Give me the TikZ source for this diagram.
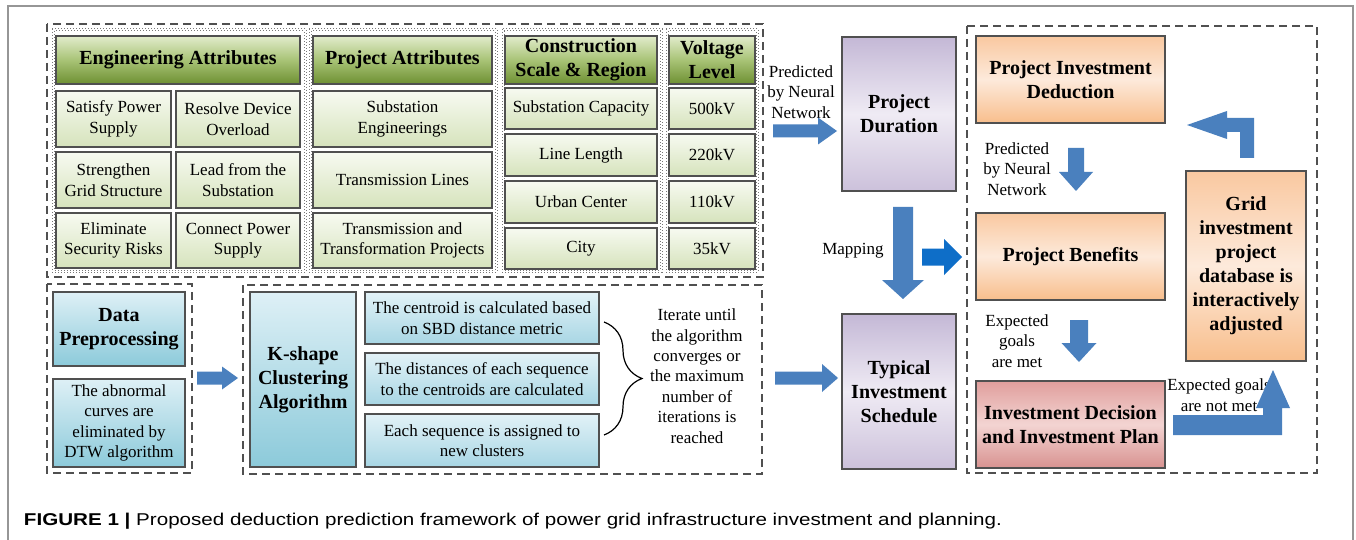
\documentclass[tikz,border=0pt]{standalone}
\usepackage{fontspec}
\setmainfont{Liberation Serif}
\newfontfamily\capfont{Liberation Sans}
\usetikzlibrary{decorations.pathreplacing}

\definecolor{headTop}{RGB}{226,236,204}
\definecolor{headMid}{RGB}{168,195,118}
\definecolor{headBot}{RGB}{110,144,50}
\definecolor{cellTop}{RGB}{247,250,241}
\definecolor{cellBot}{RGB}{214,227,188}
\definecolor{blueTop}{RGB}{222,240,246}
\definecolor{blueBot}{RGB}{140,202,218}
\definecolor{stepTop}{RGB}{226,242,247}
\definecolor{stepBot}{RGB}{168,214,228}
\definecolor{purTop}{RGB}{196,184,214}
\definecolor{purMid}{RGB}{239,235,244}
\definecolor{purBot}{RGB}{204,193,219}
\definecolor{orTop}{RGB}{249,200,160}
\definecolor{orMid}{RGB}{253,234,219}
\definecolor{orBot}{RGB}{248,190,140}
\definecolor{redTop}{RGB}{224,158,156}
\definecolor{redMid}{RGB}{243,212,210}
\definecolor{redBot}{RGB}{216,146,144}
\definecolor{arrowBlue}{RGB}{74,128,190}
\definecolor{arrowBright}{RGB}{14,110,200}
\definecolor{edge}{RGB}{80,80,80}
\definecolor{frameGray}{RGB}{150,150,150}

% box whose top-left and bottom-right corners are given in pixels
\newcommand{\boxnode}[7]{%
  \node[#1, anchor=north west,
        minimum width={(#5-#3)*0.5pt}, minimum height={(#6-#4)*0.5pt}]
        (#2) at (#3,#4) {#7};}
% block arrows: colour, tail, head base, tip, centre line, shaft half, head half
\newcommand{\rightblock}[7]{%
  \fill[#1] (#2,{#5-#6}) -- (#3,{#5-#6}) -- (#3,{#5-#7}) -- (#4,#5)
    -- (#3,{#5+#7}) -- (#3,{#5+#6}) -- (#2,{#5+#6}) -- cycle;}
\newcommand{\downblock}[7]{%
  \fill[#1] ({#5-#6},#2) -- ({#5-#6},#3) -- ({#5-#7},#3) -- (#5,#4)
    -- ({#5+#7},#3) -- ({#5+#6},#3) -- ({#5+#6},#2) -- cycle;}
% double dotted group frame
\newcommand{\groupframe}[4]{%
  \draw[frameGray!80!black, densely dotted, line width=0.5pt] (#1,#2) rectangle (#3,#4);
  \draw[frameGray!80!black, densely dotted, line width=0.5pt] ({#1+2},{#2+2}) rectangle ({#3-2},{#4-2});}

\begin{document}
\begin{tikzpicture}[x=0.5pt, y=-0.5pt,
  every node/.style={inner sep=1pt, outer sep=0pt, align=center},
  txt/.style={font=\fontsize{8.5pt}{10.2pt}\selectfont},
  btxt/.style={font=\fontsize{10pt}{12pt}\selectfont\bfseries},
  boxline/.style={draw=edge, line width=0.55pt},
  header/.style={boxline, btxt, top color=headTop, bottom color=headBot, middle color=headMid},
  cell/.style={boxline, txt, top color=cellTop, bottom color=cellBot},
  bluebox/.style={boxline, top color=blueTop, bottom color=blueBot},
  stepbox/.style={boxline, txt, top color=stepTop, bottom color=stepBot},
  purbox/.style={boxline, btxt, top color=purTop, bottom color=purBot, middle color=purMid},
  orbox/.style={boxline, btxt, top color=orTop, bottom color=orBot, middle color=orMid},
  redbox/.style={boxline, btxt, top color=redTop, bottom color=redBot, middle color=redMid},
  dashbox/.style={draw=edge, line width=0.6pt, dash pattern=on 4pt off 2.5pt},
  label/.style={txt, inner sep=0pt},
]
\fill[white] (0,0) rectangle (1356,540);
\useasboundingbox (0,0) rectangle (1356,540);
\draw[frameGray, line width=0.6pt] (8,560) -- (8,6) -- (1353,6) -- (1353,560);

% ---------- attribute tables ----------
\draw[dashbox] (47,24) rectangle (763,277);
\groupframe{52}{29}{306}{272}
\groupframe{309}{29}{497}{272}
\groupframe{502}{29}{662}{272}
\groupframe{666}{29}{758}{272}

\boxnode{header}{engH}{56}{36}{300}{84}{Engineering Attributes}
\boxnode{cell}{e11}{56}{91}{171}{147}{Satisfy Power\\Supply}
\boxnode{cell}{e12}{176}{91}{300}{147}{Resolve Device\\Overload}
\boxnode{cell}{e21}{56}{152}{171}{208}{Strengthen\\Grid Structure}
\boxnode{cell}{e22}{176}{152}{300}{208}{Lead from the\\Substation}
\boxnode{cell}{e31}{56}{213}{171}{268}{Eliminate\\Security Risks}
\boxnode{cell}{e32}{176}{213}{300}{268}{Connect Power\\Supply}

\boxnode{header}{prjH}{313}{36}{492}{84}{Project Attributes}
\boxnode{cell}{p1}{313}{91}{492}{147}{Substation\\Engineerings}
\boxnode{cell}{p2}{313}{152}{492}{208}{Transmission Lines}
\boxnode{cell}{p3}{313}{213}{492}{268}{Transmission and\\Transformation Projects}

\boxnode{header}{conH}{505}{36}{657}{84}{Construction\\Scale \& Region}
\boxnode{cell}{c1}{505}{88}{657}{129}{Substation Capacity}
\boxnode{cell}{c2}{505}{134}{657}{176}{Line Length}
\boxnode{cell}{c3}{505}{181}{657}{223}{Urban Center}
\boxnode{cell}{c4}{505}{228}{657}{269}{City}

\boxnode{header}{volH}{669}{36}{755}{84}{Voltage\\Level}
\boxnode{cell}{v1}{669}{88}{755}{129}{500kV}
\boxnode{cell}{v2}{669}{134}{755}{176}{220kV}
\boxnode{cell}{v3}{669}{181}{755}{223}{110kV}
\boxnode{cell}{v4}{669}{228}{755}{269}{35kV}

% ---------- clustering ----------
\draw[dashbox] (47,284) rectangle (192,473);
\boxnode{bluebox, btxt}{pre}{53}{292}{185}{366}{Data\\Preprocessing}
\boxnode{bluebox, txt}{dtw}{53}{379}{185}{467}{The abnormal\\curves are\\eliminated by\\DTW algorithm}

\draw[dashbox] (243,285) rectangle (762,474);
\boxnode{bluebox, btxt}{ks}{250}{292}{356}{467}{K-shape\\Clustering\\Algorithm}
\boxnode{stepbox}{s1}{365}{292}{599}{344}{The centroid is calculated based\\on SBD distance metric}
\boxnode{stepbox}{s2}{365}{353}{599}{405}{The distances of each sequence\\to the centroids are calculated}
\boxnode{stepbox}{s3}{365}{414}{599}{467}{Each sequence is assigned to\\new clusters}
\draw[line width=0.6pt, decorate, decoration={brace, amplitude=19pt}] (604,322) -- (604,435);
\node[label] (iter) at (697,376) {Iterate until\\the algorithm\\converges or\\the maximum\\number of\\iterations is\\reached};

\rightblock{arrowBlue}{197}{222}{238}{378}{6.5}{11.5}

% ---------- middle column ----------
\boxnode{purbox}{dur}{842}{37}{956}{191}{Project\\Duration}
\boxnode{purbox}{sched}{842}{314}{956}{469}{Typical\\Investment\\Schedule}
\node[label] (nn1) at (801,92) {Predicted\\by Neural\\Network};
\node[label] (map) at (853,251) {Mapping};
\rightblock{arrowBlue}{773}{818}{837}{131}{6.5}{13.5}
\downblock{arrowBlue}{207}{280}{299}{903}{10}{21}
\rightblock{arrowBright}{922}{944}{962}{257}{8.5}{18}
\rightblock{arrowBlue}{775}{822}{838}{378}{6.5}{14}

% ---------- deduction loop ----------
\draw[dashbox] (967,26) rectangle (1317,473);
\boxnode{orbox}{pid}{976}{36}{1165}{123}{Project Investment\\Deduction}
\boxnode{orbox}{pb}{976}{213}{1165}{300}{Project Benefits}
\boxnode{redbox}{dec}{976}{381}{1165}{468}{Investment Decision\\and Investment Plan}
\boxnode{orbox}{grid}{1186}{171}{1306}{361}{Grid\\investment\\project\\database is\\interactively\\adjusted}

\node[label] (nn2) at (1017,169) {Predicted\\by Neural\\Network};
\node[label] (met) at (1017,341) {Expected\\goals\\are met};
\node[label] (notmet) at (1219,395) {Expected goals\\are not met};

\downblock{arrowBlue}{148}{172}{191}{1076}{8}{17}
\downblock{arrowBlue}{320}{343}{362}{1079}{9}{17.5}
% bent arrow from the decision box up to the database box
\fill[arrowBlue] (1173,415) -- (1263,415) -- (1263,408) -- (1256,408) -- (1273,370)
  -- (1290,408) -- (1282,408) -- (1282,435) -- (1173,435) -- cycle;
% bent arrow from the database box back to the deduction box
\fill[arrowBlue] (1240,158) -- (1240,132) -- (1227,132) -- (1227,139) -- (1187,125)
  -- (1227,111) -- (1227,118) -- (1254,118) -- (1254,158) -- cycle;

% ---------- caption ----------
\node[anchor=base west, inner sep=0pt] (cap) at (24,525)
  {\scalebox{1}[0.83]{\capfont\fontsize{10.3pt}{12pt}\selectfont\textbf{FIGURE 1 |} Proposed deduction prediction framework of power grid infrastructure investment and planning.}};
\end{tikzpicture}
\end{document}
